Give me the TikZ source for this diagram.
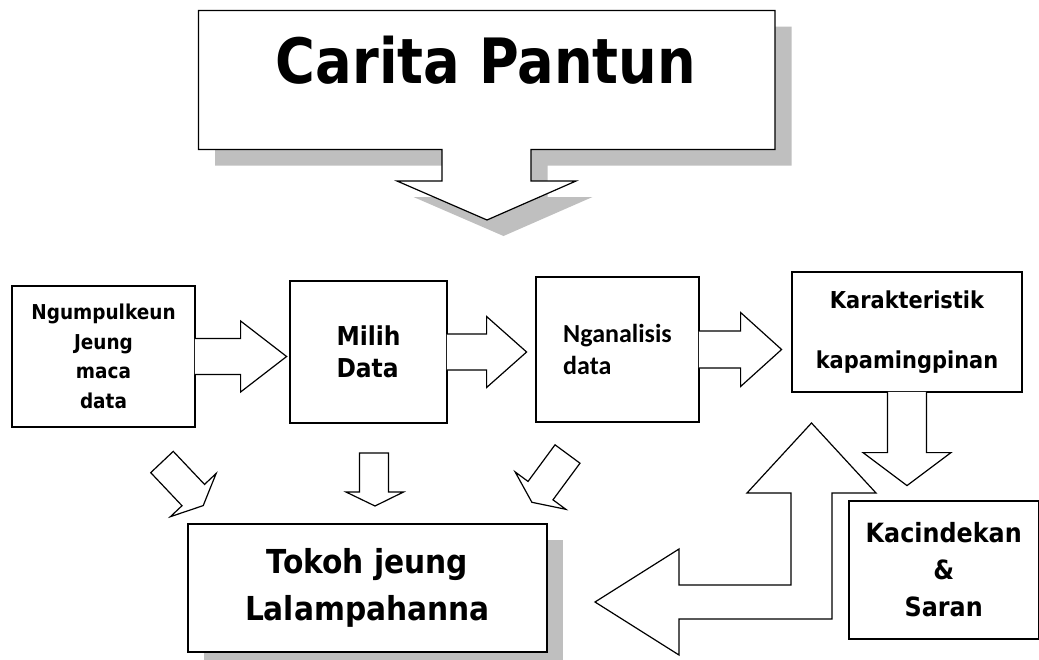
\documentclass[tikz,border=0pt]{standalone}
\usepackage{fontspec}
\newfontfamily\tahoma{DejaVu Sans}[FakeStretch=0.9]
\newfontfamily\calibri{Carlito}
\usetikzlibrary{shadows}

\tikzset{
    box/.style={draw, line width=1.2pt, fill=white, inner sep=0pt, align=center, font=\tahoma\bfseries},
    blockarrow/.style={draw, line width=1.2pt, fill=white, line join=miter},
    boxshadow/.style={drop shadow={shadow xshift=16pt, shadow yshift=-16pt, fill=black!25, opacity=1}},
}

\begin{document}
\begin{tikzpicture}[x=1pt, y=-1pt]
    \useasboundingbox (0,0) rectangle (1039,659);

    % title callout (box with arrow pointing down) and its shadow
    \fill[black!25, shift={(16.5,16)}]
        (198.5,10.5) -- (775,10.5) -- (775,149.5) -- (531,149.5) -- (531,181) -- (576,181) --
        (487,220) -- (397,181) -- (442,181) -- (442,149.5) -- (198.5,149.5) -- cycle;
    \draw[blockarrow]
        (198.5,10.5) -- (775,10.5) -- (775,149.5) -- (531,149.5) -- (531,181) -- (576,181) --
        (487,220) -- (397,181) -- (442,181) -- (442,149.5) -- (198.5,149.5) -- cycle;
    \node[anchor=base, inner sep=0pt, font=\tahoma\bfseries\fontsize{62.5}{62.5}\selectfont]
        (title) at (486,83.3) {\scalebox{0.965}[1]{Carita Pantun}};

    % the row of steps
    \node[box, minimum width=183, minimum height=141, font=\tahoma\bfseries\fontsize{20.5}{29.7}\selectfont]
        (ngumpul) at (103.5,356.5) {Ngumpulkeun\\Jeung\\maca\\data};
    \node[box, minimum width=157, minimum height=142, align=left, font=\tahoma\bfseries\fontsize{26}{32}\selectfont]
        (milih) at (368.5,352) {Milih\\Data};
    \node[box, minimum width=163, minimum height=145, align=left, font=\calibri\bfseries\fontsize{26}{32}\selectfont]
        (nganal) at (617.5,349.5) {Nganalisis\\data};
    \node[box, minimum width=230, minimum height=120, font=\tahoma\bfseries\fontsize{23.3}{60}\selectfont]
        (karakter) at (907,332) {Karakteristik\\kapamingpinan};

    % results
    \node[box, boxshadow, minimum width=359, minimum height=128, font=\tahoma\bfseries\fontsize{33}{46.7}\selectfont]
        (tokoh) at (367.5,588) {Tokoh jeung\\Lalampahanna};
    \node[box, minimum width=189.5, minimum height=138, font=\tahoma\bfseries\fontsize{26.5}{37}\selectfont]
        (kacindek) at (943.75,570) {Kacindekan\\\&\\Saran};

    % block arrows leaving the boxes
    \draw[blockarrow] (ngumpul.east) ++(-0.8,-18) -- ++(45.8,0) -- ++(0,-17.5) -- ++(46,35.5)
        -- ++(-46,35.5) -- ++(0,-17.5) -- ++(-45.8,0);
    \draw[blockarrow] (milih.east) ++(-0.8,-18) -- ++(39.8,0) -- ++(0,-17.5) -- ++(40,35.5)
        -- ++(-40,35.5) -- ++(0,-17.5) -- ++(-39.8,0);
    \draw[blockarrow] (nganal.east) ++(-0.8,-18.5) -- ++(41.8,0) -- ++(0,-18.5) -- ++(41,37)
        -- ++(-41,37) -- ++(0,-18.5) -- ++(-41.8,0);
    \draw[blockarrow] (karakter.south) ++(-19.5,-0.8) -- ++(0,60.8) -- ++(-24.5,0) -- ++(44,33)
        -- ++(44,-33) -- ++(-24.5,0) -- ++(0,-60.8);

    % three small arrows into Tokoh jeung Lalampahanna
    \begin{scope}[shift={(162,462)}, rotate=-46.6]
        \draw[blockarrow] (0,-15.5) -- (45.5,-15.5) -- (45.5,-31.5) -- (60,0)
            -- (45.5,31.5) -- (45.5,15.5) -- (0,15.5) -- cycle;
    \end{scope}
    \draw[blockarrow] (359.5,453) -- (388.5,453) -- (388.5,492) -- (403.5,492) -- (375,506)
        -- (346,492) -- (359.5,492) -- cycle;
    \begin{scope}[shift={(567.5,454)}, rotate=-126.4]
        \draw[blockarrow] (0,-15.5) -- (45.5,-15.5) -- (45.5,-31.5) -- (60,0)
            -- (45.5,31.5) -- (45.5,15.5) -- (0,15.5) -- cycle;
    \end{scope}

    % bent arrow: up to Karakteristik, left to Tokoh
    \draw[blockarrow] (811.5,423) -- (876,493) -- (832,493) -- (832,619) -- (679,619) -- (679,655)
        -- (595,602) -- (679,549) -- (679,585) -- (791,585) -- (791,493) -- (747,493) -- cycle;
\end{tikzpicture}
\end{document}
